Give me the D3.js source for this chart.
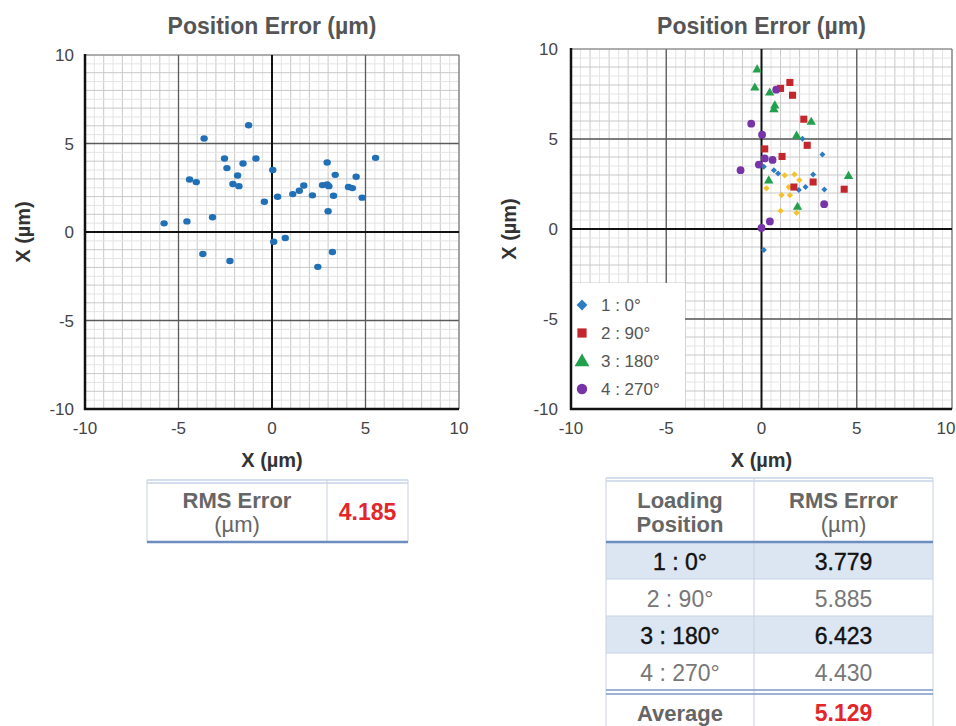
<!DOCTYPE html>
<html>
<head>
<meta charset="utf-8">
<script src="https://cdn.jsdelivr.net/npm/d3@7"></script>
<style>
  body { margin: 0; background: #fff; }
  svg text { font-family: "Liberation Sans", Arial, sans-serif; }
</style>
</head>
<body>
<svg id="chart" width="956" height="726"></svg>
<script>
// single-load test result (left chart)
var singlePoints = [
  [-5.77, 0.49], [-4.55, 0.60], [-3.63, 5.28], [-1.25, 6.03], [-4.41, 2.97],
  [-4.05, 2.82], [-3.18, 0.83], [-3.70, -1.24], [-2.25, -1.64], [-2.54, 4.15],
  [-2.41, 3.61], [-1.55, 3.87], [-0.86, 4.15], [-1.84, 3.19], [-2.09, 2.71],
  [-1.77, 2.59], [-0.41, 1.71], [0.04, 3.50], [0.30, 1.99], [0.09, -0.55],
  [0.71, -0.34], [1.11, 2.14], [1.46, 2.33], [1.70, 2.63], [2.16, 2.07],
  [2.70, 2.65], [2.95, 2.69], [3.04, 2.59], [2.95, 3.93], [3.38, 3.23],
  [3.29, 2.05], [3.00, 1.17], [3.23, -1.13], [2.45, -1.97], [4.09, 2.54],
  [4.30, 2.48], [4.50, 3.12], [4.82, 1.94], [5.54, 4.19]
];

// loading position results (right chart)
var pos0 = [[2.15, 5.02], [3.20, 4.14], [0.12, 3.46], [0.65, 3.27], [0.87, 3.09],
  [2.71, 3.03], [1.96, 2.17], [2.31, 2.33], [3.30, 2.19], [0.12, -1.16]];
var pos90 = [[1.49, 8.14], [1.00, 7.81], [1.63, 7.43], [2.22, 6.10], [2.40, 4.65],
  [0.17, 4.45], [1.08, 4.03], [1.70, 2.33], [2.71, 2.61], [4.34, 2.21]];
var pos180 = [[-0.23, 8.85], [-0.35, 7.84], [0.43, 7.56], [0.70, 6.85], [0.65, 6.64],
  [2.61, 5.94], [1.84, 5.17], [0.38, 2.68], [4.57, 2.93], [1.89, 1.22]];
var pos270 = [[-0.54, 5.85], [0.03, 5.24], [0.77, 7.74], [0.17, 3.92], [0.58, 3.84],
  [-0.14, 3.58], [-1.10, 3.27], [3.29, 1.38], [0.44, 0.42], [0.00, 0.06]];
var posExtra = [[1.22, 2.98], [1.73, 3.03], [1.99, 2.72], [0.26, 2.26], [1.43, 2.33],
  [1.05, 1.89], [1.49, 1.88], [1.00, 1.01], [1.84, 0.90]];

var legendLabels = ["1 : 0°", "2 : 90°", "3 : 180°", "4 : 270°"];
var axisTicks = [-10, -5, 0, 5, 10];

var singleRms = "4.185";
var loadingPositions = ["1 : 0°", "2 : 90°", "3 : 180°", "4 : 270°"];
var loadingRms = ["3.779", "5.885", "6.423", "4.430"];
var averageRms = "5.129";

var svg = d3.select("#chart");
var gray = "#555";

// diamond = square turned 45deg
function marker(shape, size) {
  return d3.symbol().type(shape === "diamond" ? d3.symbolSquare : shape).size(size)();
}

function drawPlot(g, box) {
  var x = d3.scaleLinear().domain([-10, 10]).range([box.left, box.right]);
  var y = d3.scaleLinear().domain([-10, 10]).range([box.bottom, box.top]);

  var fine = d3.range(-10, 10.01, 0.5);
  g.selectAll(".vf").data(fine).enter().append("line")
    .attr("x1", d => x(d)).attr("x2", d => x(d))
    .attr("y1", y(-10)).attr("y2", y(10))
    .attr("stroke", d => Number.isInteger(d) ? "#c8c8c8" : "#e4e4e4")
    .attr("stroke-width", 1);
  g.selectAll(".hf").data(fine).enter().append("line")
    .attr("y1", d => y(d)).attr("y2", d => y(d))
    .attr("x1", x(-10)).attr("x2", x(10))
    .attr("stroke", d => Number.isInteger(d) ? "#c8c8c8" : "#e4e4e4")
    .attr("stroke-width", 1);

  var major = [-5, 5];
  g.selectAll(".vm").data(major).enter().append("line")
    .attr("x1", d => x(d)).attr("x2", d => x(d))
    .attr("y1", y(-10)).attr("y2", y(10))
    .attr("stroke", "#5a5a5a").attr("stroke-width", 1.3);
  g.selectAll(".hm").data(major).enter().append("line")
    .attr("y1", d => y(d)).attr("y2", d => y(d))
    .attr("x1", x(-10)).attr("x2", x(10))
    .attr("stroke", "#5a5a5a").attr("stroke-width", 1.3);

  g.append("line").attr("x1", x(-10)).attr("x2", x(10)).attr("y1", y(10)).attr("y2", y(10))
    .attr("stroke", "#777").attr("stroke-width", 1.2);
  g.append("line").attr("x1", x(10)).attr("x2", x(10)).attr("y1", y(10)).attr("y2", y(-10))
    .attr("stroke", "#777").attr("stroke-width", 1.2);

  g.append("line").attr("x1", x(0)).attr("x2", x(0)).attr("y1", y(10)).attr("y2", y(-10))
    .attr("stroke", "#111").attr("stroke-width", 2);
  g.append("line").attr("x1", x(-10)).attr("x2", x(10)).attr("y1", y(0)).attr("y2", y(0))
    .attr("stroke", "#111").attr("stroke-width", 2);

  return {x: x, y: y};
}

function drawFrame(g, sc, box) {
  var x = sc.x, y = sc.y;
  g.append("line").attr("x1", x(-10)).attr("x2", x(-10)).attr("y1", y(10) - 1).attr("y2", y(-10) + 1)
    .attr("stroke", "#111").attr("stroke-width", 2.5);
  g.append("line").attr("x1", x(-10) - 1).attr("x2", x(10)).attr("y1", y(-10)).attr("y2", y(-10))
    .attr("stroke", "#111").attr("stroke-width", 2.5);

  g.selectAll(".yt").data(axisTicks).enter().append("text")
    .attr("x", x(-10) - box.tickGap).attr("y", d => y(d) + 6)
    .attr("text-anchor", "end").attr("font-size", 17).attr("fill", "#444")
    .text(d => d);
  g.selectAll(".xt").data(axisTicks).enter().append("text")
    .attr("x", d => Math.min(x(d), 946)).attr("y", y(-10) + 25)
    .attr("text-anchor", "middle").attr("font-size", 17).attr("fill", "#444")
    .text(d => d);

  var cx = x(0);
  g.append("text").attr("x", cx).attr("y", 34)
    .attr("text-anchor", "middle").attr("font-size", 23).attr("font-weight", "bold")
    .attr("fill", gray).text("Position Error (µm)");
  g.append("text").attr("x", cx).attr("y", y(-10) + 58)
    .attr("text-anchor", "middle").attr("font-size", 20).attr("font-weight", "bold")
    .attr("fill", "#333").text("X (µm)");
  g.append("text")
    .attr("transform", "translate(" + box.ylab + "," + y(0) + ") rotate(-90)")
    .attr("text-anchor", "middle").attr("font-size", 20).attr("font-weight", "bold")
    .attr("fill", "#333").text("X (µm)");
}

// ---- left chart ----
var leftBox = {left: 85, right: 459, top: 55, bottom: 409, ylab: 30, tickGap: 11};
var gl = svg.append("g");
var sl = drawPlot(gl, leftBox);
gl.selectAll(".dot").data(singlePoints).enter().append("ellipse")
  .attr("cx", d => sl.x(d[0])).attr("cy", d => sl.y(d[1]))
  .attr("rx", 3.7).attr("ry", 3.2)
  .attr("fill", "#2170b5");
drawFrame(gl, sl, leftBox);

// ---- right chart ----
var rightBox = {left: 571, right: 952, top: 49, bottom: 409, ylab: 516, tickGap: 13};
var gr = svg.append("g");
var sr = drawPlot(gr, rightBox);

var series = [
  {data: posExtra, shape: "diamond", size: 20, color: "#f3c22c", legendSize: 0},
  {data: pos0, shape: "diamond", size: 18, color: "#2c7cc4", legendSize: 58},
  {data: pos90, shape: d3.symbolSquare, size: 50, color: "#c4262d", legendSize: 85},
  {data: pos180, shape: d3.symbolTriangle, size: 38, color: "#22a04c", legendSize: 95},
  {data: pos270, shape: d3.symbolCircle, size: 48, color: "#7634a6", legendSize: 85}
];
series.forEach(function(s) {
  var rot = s.shape === "diamond" ? " rotate(45)" : "";
  gr.selectAll(null).data(s.data).enter().append("path")
    .attr("d", marker(s.shape, s.size))
    .attr("transform", d => "translate(" + sr.x(d[0]) + "," + sr.y(d[1]) + ")" + rot)
    .attr("fill", s.color);
});

// legend box covering grid
var legend = gr.append("g");
legend.append("rect").attr("x", 572).attr("y", 283).attr("width", 113).attr("height", 125)
  .attr("fill", "#fff");
var legendShapes = series.slice(1);
legend.selectAll(".lg").data(legendLabels).enter().append("g")
  .each(function(d, i) {
    var yy = 305 + i * 28;
    var s = legendShapes[i];
    var rot = s.shape === "diamond" ? " rotate(45)" : "";
    d3.select(this).append("path")
      .attr("d", marker(s.shape, s.legendSize))
      .attr("transform", "translate(582," + (yy + (i === 2 ? 1 : 0)) + ")" + rot)
      .attr("fill", s.color);
    d3.select(this).append("text").attr("x", 601).attr("y", yy + 6)
      .attr("font-size", 17).attr("fill", "#555").text(d);
  });
drawFrame(gr, sr, rightBox);

// ---- left table ----
var tl = svg.append("g");
var lx0 = 147, lx1 = 408, lxm = 327, ly0 = 480, ly1 = 542;
tl.append("line").attr("x1", lx0).attr("x2", lx1).attr("y1", ly0).attr("y2", ly0)
  .attr("stroke", "#a9bedc").attr("stroke-width", 1);
tl.append("line").attr("x1", lx0).attr("x2", lx1).attr("y1", ly0 + 3).attr("y2", ly0 + 3)
  .attr("stroke", "#a9bedc").attr("stroke-width", 1);
[lx0, lxm, lx1].forEach(function(v) {
  tl.append("line").attr("x1", v).attr("x2", v).attr("y1", ly0).attr("y2", ly1)
    .attr("stroke", "#c9d2de").attr("stroke-width", 1);
});
tl.append("line").attr("x1", lx0).attr("x2", lx1).attr("y1", ly1).attr("y2", ly1)
  .attr("stroke", "#6d8cbf").attr("stroke-width", 2.5);
tl.append("text").attr("x", (lx0 + lxm) / 2).attr("y", 508)
  .attr("text-anchor", "middle").attr("font-size", 22).attr("font-weight", "bold")
  .attr("fill", "#666").text("RMS Error");
tl.append("text").attr("x", (lx0 + lxm) / 2).attr("y", 532)
  .attr("text-anchor", "middle").attr("font-size", 22)
  .attr("fill", "#666").text("(µm)");
tl.append("text").attr("x", (lxm + lx1) / 2).attr("y", 520)
  .attr("text-anchor", "middle").attr("font-size", 23).attr("font-weight", "bold")
  .attr("fill", "#e3262a").text(singleRms);

// ---- right table ----
var tr = svg.append("g");
var rx0 = 606, rx1 = 933, rxm = 754;
var rowTop = d3.scaleLinear().domain([0, 4]).range([542, 690]);
var rowH = rowTop(1) - rowTop(0);
var c1 = (rx0 + rxm) / 2, c2 = (rxm + rx1) / 2;

tr.selectAll(".bg").data(loadingPositions).enter().append("rect")
  .attr("x", rx0).attr("y", (d, i) => rowTop(i))
  .attr("width", rx1 - rx0).attr("height", rowH)
  .attr("fill", (d, i) => i % 2 === 0 ? "#dce6f3" : "#fff");
tr.selectAll(".rl").data(d3.range(1, 4)).enter().append("line")
  .attr("x1", rx0).attr("x2", rx1).attr("y1", d => rowTop(d)).attr("y2", d => rowTop(d))
  .attr("stroke", "#c6d3e5").attr("stroke-width", 1);

tr.append("line").attr("x1", rx0).attr("x2", rx1).attr("y1", 478).attr("y2", 478)
  .attr("stroke", "#a9bedc").attr("stroke-width", 1);
tr.append("line").attr("x1", rx0).attr("x2", rx1).attr("y1", 481).attr("y2", 481)
  .attr("stroke", "#a9bedc").attr("stroke-width", 1);
[rx0, rxm, rx1].forEach(function(v) {
  tr.append("line").attr("x1", v).attr("x2", v).attr("y1", 478).attr("y2", 726)
    .attr("stroke", "#c9d2de").attr("stroke-width", 1);
});
tr.append("line").attr("x1", rx0).attr("x2", rx1).attr("y1", 542).attr("y2", 542)
  .attr("stroke", "#6d8cbf").attr("stroke-width", 2.5);
tr.append("line").attr("x1", rx0).attr("x2", rx1).attr("y1", 690).attr("y2", 690)
  .attr("stroke", "#7d98c6").attr("stroke-width", 1.5);
tr.append("line").attr("x1", rx0).attr("x2", rx1).attr("y1", 694).attr("y2", 694)
  .attr("stroke", "#7d98c6").attr("stroke-width", 1.5);

tr.append("text").attr("x", c1).attr("y", 508).attr("text-anchor", "middle")
  .attr("font-size", 22).attr("font-weight", "bold").attr("fill", "#666").text("Loading");
tr.append("text").attr("x", c1).attr("y", 532).attr("text-anchor", "middle")
  .attr("font-size", 22).attr("font-weight", "bold").attr("fill", "#666").text("Position");
tr.append("text").attr("x", c2).attr("y", 508).attr("text-anchor", "middle")
  .attr("font-size", 22).attr("font-weight", "bold").attr("fill", "#666").text("RMS Error");
tr.append("text").attr("x", c2).attr("y", 532).attr("text-anchor", "middle")
  .attr("font-size", 22).attr("fill", "#666").text("(µm)");

tr.selectAll(".lp").data(loadingPositions).enter().append("text")
  .attr("x", c1).attr("y", (d, i) => rowTop(i) + rowH / 2 + 9)
  .attr("text-anchor", "middle").attr("font-size", 23)
  .attr("fill", (d, i) => i % 2 === 0 ? "#111" : "#777")
  .attr("stroke", (d, i) => i % 2 === 0 ? "#111" : "none").attr("stroke-width", 0.4)
  .text(d => d);
tr.selectAll(".lv").data(loadingRms).enter().append("text")
  .attr("x", c2).attr("y", (d, i) => rowTop(i) + rowH / 2 + 9)
  .attr("text-anchor", "middle").attr("font-size", 23)
  .attr("fill", (d, i) => i % 2 === 0 ? "#111" : "#777")
  .attr("stroke", (d, i) => i % 2 === 0 ? "#111" : "none").attr("stroke-width", 0.4)
  .text(d => d);

tr.append("text").attr("x", c1).attr("y", 721).attr("text-anchor", "middle")
  .attr("font-size", 22).attr("font-weight", "bold").attr("fill", "#666").text("Average");
tr.append("text").attr("x", c2).attr("y", 721).attr("text-anchor", "middle")
  .attr("font-size", 23).attr("font-weight", "bold").attr("fill", "#e3262a").text(averageRms);
</script>
</body>
</html>
